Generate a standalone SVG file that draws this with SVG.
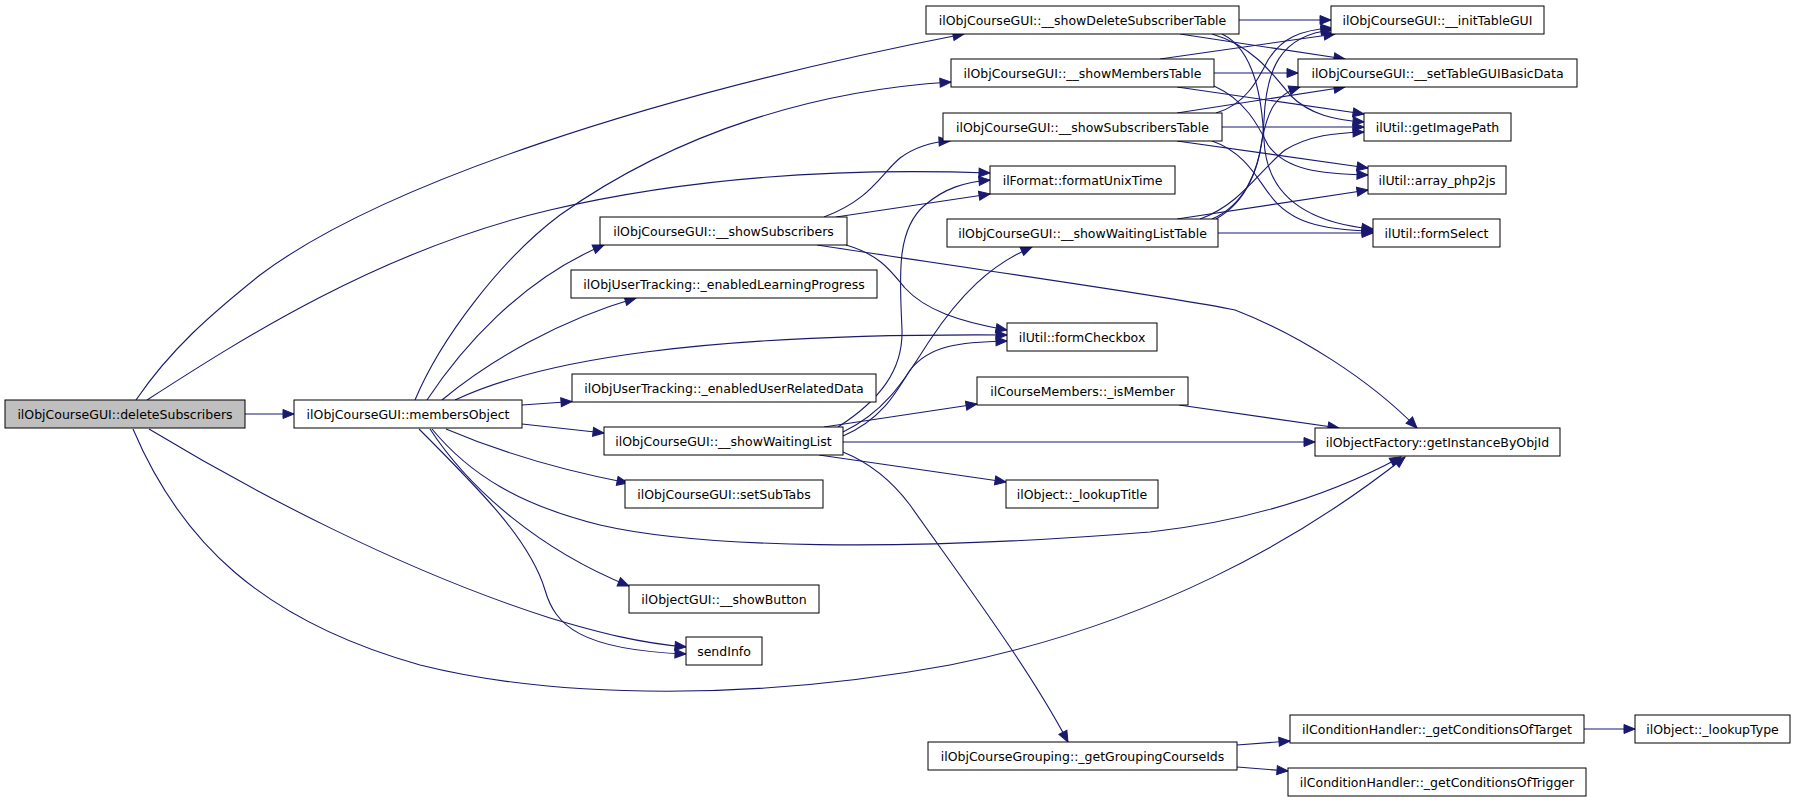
<svg xmlns="http://www.w3.org/2000/svg" width="1795" height="803" viewBox="0 0 1795 803">
<defs>
<style>
.n rect{fill:#fff;stroke:#000;stroke-width:1}
.n.root rect{fill:#bfbfbf}
.n text{font-family:"DejaVu Sans","Liberation Sans",sans-serif;font-size:12.5px;text-anchor:middle;fill:#000}
.e path{fill:none;stroke:#191970;stroke-width:1.1;marker-end:url(#ah)}
</style>
<marker id="ah" markerWidth="12" markerHeight="10" refX="11" refY="4.5" orient="auto" markerUnits="userSpaceOnUse" overflow="visible">
<path d="M0,0 L11,4.5 L0,9 z" fill="#191970" stroke="#191970" stroke-width="1"/>
</marker>
</defs>
<rect width="1795" height="803" fill="#fff"/>
<g id="edges" class="e">
<path d="M136,400 C170,350 210,315 260,275 C380,185 650,95 964,34"/>
<path d="M147,400 C240,340 380,250 550,210 C700,175 850,168 990,173"/>
<path d="M245,414 L294,414"/>
<path d="M149,429 C250,490 400,570 550,618 C600,633 640,643 686,647"/>
<path d="M133,429 C180,540 260,620 420,665 C560,700 760,700 950,665 C1150,625 1300,540 1405,457"/>
<path d="M415,400 C440,340 500,260 560,215 C680,130 820,90 951,82"/>
<path d="M427,400 C460,350 520,280 604,245"/>
<path d="M442,400 C490,360 560,320 636,298"/>
<path d="M455,400 C540,360 700,333 1007,335"/>
<path d="M522,405 L572,401.5"/>
<path d="M522,424 L604,433"/>
<path d="M446,429 C500,452 560,470 628,483"/>
<path d="M432,429 C470,475 520,505 600,525 C700,548 900,552 1150,532 C1260,520 1340,490 1401,457"/>
<path d="M430,429 C470,490 540,550 629,586"/>
<path d="M419,429 C480,490 530,540 545,590 C555,625 580,650 686,654"/>
<path d="M824,217 C870,200 880,175 900,158 C915,147 930,142 950,141"/>
<path d="M836,217 L990,194"/>
<path d="M846,245 C880,255 890,270 905,288 C925,310 960,322 1007,330"/>
<path d="M817,245 C1000,273 1180,298 1235,310 C1300,335 1370,380 1417,428"/>
<path d="M838,427 C880,400 903,370 902,330 C900,280 895,230 925,205 C945,188 965,182 990,180"/>
<path d="M843,432 C890,410 910,370 930,340 C960,295 990,265 1032,247"/>
<path d="M843,436 C880,420 895,395 910,370 C930,345 960,342 1007,341"/>
<path d="M824,427 L977,404"/>
<path d="M843,442 L1315,442"/>
<path d="M819,455 L1006,482"/>
<path d="M843,452 C875,465 895,485 910,505 C970,590 1030,670 1068,742"/>
<path d="M1239,20 L1331,20"/>
<path d="M1180,34 L1345,59"/>
<path d="M1212,34 C1250,45 1270,70 1290,95 C1310,115 1335,120 1364,122"/>
<path d="M1222,34 C1255,50 1262,100 1264,140 C1266,190 1300,222 1373,229"/>
<path d="M1160,59 L1335,34"/>
<path d="M1214,73 L1298,73"/>
<path d="M1177,87 L1364,114"/>
<path d="M1214,86 C1245,100 1258,125 1268,145 C1285,170 1320,174 1368,175"/>
<path d="M1216,113 C1245,105 1258,80 1268,60 C1282,38 1300,30 1332,28"/>
<path d="M1177,113 L1345,87"/>
<path d="M1222,127 L1364,127"/>
<path d="M1177,141 L1368,168"/>
<path d="M1212,141 C1245,152 1258,180 1270,195 C1290,222 1320,230 1373,231"/>
<path d="M1216,219 C1250,200 1262,160 1264,120 C1266,70 1280,35 1332,30"/>
<path d="M1212,219 C1245,205 1258,170 1262,140 C1268,110 1275,95 1300,87"/>
<path d="M1200,219 C1240,205 1260,170 1285,150 C1310,135 1335,133 1364,132"/>
<path d="M1177,219 L1368,190"/>
<path d="M1218,233 L1373,233"/>
<path d="M1179,405 L1339,428"/>
<path d="M1237,745 L1290,741"/>
<path d="M1237,767 L1288,771"/>
<path d="M1584,729 L1635,729"/>
</g>
<g id="n_deleteSubscribers" class="n root"><rect x="5" y="400" width="240" height="28"/><text x="125" y="418.5">ilObjCourseGUI::deleteSubscribers</text></g>
<g id="n_membersObject" class="n"><rect x="294" y="400" width="228" height="28"/><text x="408" y="418.5">ilObjCourseGUI::membersObject</text></g>
<g id="n_showDeleteSubscriberTable" class="n"><rect x="926" y="6" width="313" height="28"/><text x="1082.5" y="24.5">ilObjCourseGUI::__showDeleteSubscriberTable</text></g>
<g id="n_showMembersTable" class="n"><rect x="951" y="59" width="263" height="28"/><text x="1082.5" y="77.5">ilObjCourseGUI::__showMembersTable</text></g>
<g id="n_showSubscribersTable" class="n"><rect x="943" y="113" width="279" height="28"/><text x="1082.5" y="131.5">ilObjCourseGUI::__showSubscribersTable</text></g>
<g id="n_formatUnixTime" class="n"><rect x="990" y="166" width="185" height="28"/><text x="1082.5" y="184.5">ilFormat::formatUnixTime</text></g>
<g id="n_showWaitingListTable" class="n"><rect x="947" y="219" width="271" height="28"/><text x="1082.5" y="237.5">ilObjCourseGUI::__showWaitingListTable</text></g>
<g id="n_showSubscribers" class="n"><rect x="600" y="217" width="247" height="28"/><text x="723.5" y="235.5">ilObjCourseGUI::__showSubscribers</text></g>
<g id="n_enabledLearningProgress" class="n"><rect x="571" y="270" width="306" height="28"/><text x="724" y="288.5">ilObjUserTracking::_enabledLearningProgress</text></g>
<g id="n_formCheckbox" class="n"><rect x="1007" y="323" width="150" height="28"/><text x="1082" y="341.5">ilUtil::formCheckbox</text></g>
<g id="n_enabledUserRelatedData" class="n"><rect x="572" y="374" width="304" height="28"/><text x="724" y="392.5">ilObjUserTracking::_enabledUserRelatedData</text></g>
<g id="n_isMember" class="n"><rect x="977" y="377" width="211" height="28"/><text x="1082.5" y="395.5">ilCourseMembers::_isMember</text></g>
<g id="n_showWaitingList" class="n"><rect x="604" y="427" width="239" height="28"/><text x="723.5" y="445.5">ilObjCourseGUI::__showWaitingList</text></g>
<g id="n_getInstanceByObjId" class="n"><rect x="1315" y="428" width="245" height="28"/><text x="1437.5" y="446.5">ilObjectFactory::getInstanceByObjId</text></g>
<g id="n_setSubTabs" class="n"><rect x="625" y="480" width="198" height="28"/><text x="724" y="498.5">ilObjCourseGUI::setSubTabs</text></g>
<g id="n_lookupTitle" class="n"><rect x="1006" y="480" width="152" height="28"/><text x="1082" y="498.5">ilObject::_lookupTitle</text></g>
<g id="n_showButton" class="n"><rect x="629" y="585" width="190" height="28"/><text x="724" y="603.5">ilObjectGUI::__showButton</text></g>
<g id="n_sendInfo" class="n"><rect x="686" y="637" width="76" height="28"/><text x="724" y="655.5">sendInfo</text></g>
<g id="n_getGroupingCourseIds" class="n"><rect x="928" y="742" width="309" height="28"/><text x="1082.5" y="760.5">ilObjCourseGrouping::_getGroupingCourseIds</text></g>
<g id="n_getConditionsOfTarget" class="n"><rect x="1290" y="715" width="294" height="28"/><text x="1437" y="733.5">ilConditionHandler::_getConditionsOfTarget</text></g>
<g id="n_getConditionsOfTrigger" class="n"><rect x="1288" y="768" width="298" height="28"/><text x="1437" y="786.5">ilConditionHandler::_getConditionsOfTrigger</text></g>
<g id="n_lookupType" class="n"><rect x="1635" y="715" width="155" height="28"/><text x="1712.5" y="733.5">ilObject::_lookupType</text></g>
<g id="n_initTableGUI" class="n"><rect x="1331" y="6" width="213" height="28"/><text x="1437.5" y="24.5">ilObjCourseGUI::__initTableGUI</text></g>
<g id="n_setTableGUIBasicData" class="n"><rect x="1298" y="59" width="279" height="28"/><text x="1437.5" y="77.5">ilObjCourseGUI::__setTableGUIBasicData</text></g>
<g id="n_getImagePath" class="n"><rect x="1364" y="113" width="147" height="28"/><text x="1437.5" y="131.5">ilUtil::getImagePath</text></g>
<g id="n_array_php2js" class="n"><rect x="1368" y="166" width="138" height="28"/><text x="1437" y="184.5">ilUtil::array_php2js</text></g>
<g id="n_formSelect" class="n"><rect x="1373" y="219" width="127" height="28"/><text x="1436.5" y="237.5">ilUtil::formSelect</text></g>
</svg>
